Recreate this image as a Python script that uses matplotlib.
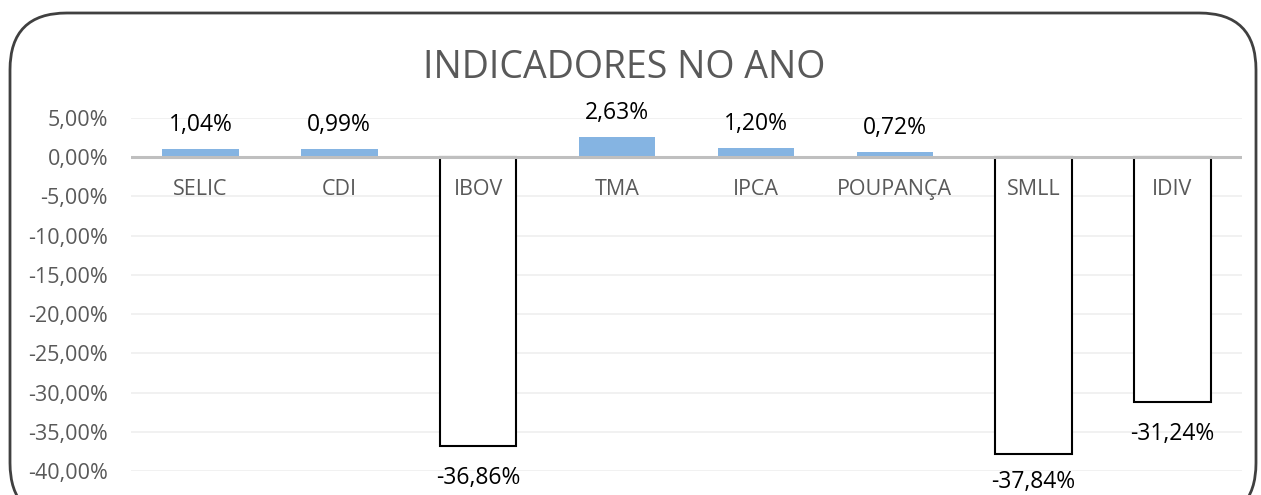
import numpy as np
import matplotlib.pyplot as plt
from matplotlib.patches import FancyBboxPatch

plt.rcParams['font.family'] = ['Open Sans', 'DejaVu Sans']

# dados do grafico
categorias = ['SELIC', 'CDI', 'IBOV', 'TMA', 'IPCA', 'POUPANÇA', 'SMLL', 'IDIV']
valores = [1.04, 0.99, -36.86, 2.63, 1.20, 0.72, -37.84, -31.24]
rotulos = ['1,04%', '0,99%', '-36,86%', '2,63%', '1,20%', '0,72%', '-37,84%', '-31,24%']
ticks_y = [5, 0, -5, -10, -15, -20, -25, -30, -35, -40]
ticks_y_txt = ['5,00%', '0,00%', '-5,00%', '-10,00%', '-15,00%', '-20,00%',
               '-25,00%', '-30,00%', '-35,00%', '-40,00%']

W, H = 1261, 495
fig = plt.figure(figsize=(W / 100, H / 100), dpi=100)

# moldura arredondada
frame = FancyBboxPatch((10 / W, -0.05), 1246 / W, 1 - 13 / H + 0.05,
                       boxstyle="round,pad=0,rounding_size=0.045",
                       transform=fig.transFigure, facecolor='none',
                       edgecolor='#404040', linewidth=2, mutation_aspect=W / H,
                       zorder=10)
fig.patches.append(frame)

ax = fig.add_axes([131 / W, 1 - 471 / H, 1111 / W, 353 / H])
ax.set_facecolor('none')
x = np.arange(len(categorias))

for i, v in enumerate(valores):
    if v >= 0:
        ax.bar(i, v, width=0.55, color='#85B4E2', zorder=3)
    else:
        ax.bar(i, v, width=0.55, color='white', edgecolor='black', linewidth=1.5, zorder=3)

for t in ticks_y:
    if t != 0:
        ax.axhline(t, color='#EFEFEF', linewidth=1.2, zorder=1)
ax.axhline(0, color='#BFBFBF', linewidth=2.2, zorder=4)

ax.set_xlim(-0.5, len(categorias) - 0.5)
ax.set_ylim(-40, 5)
ax.set_yticks(ticks_y)
ax.set_yticklabels(ticks_y_txt, color='#595959', fontsize=15.5)
ax.set_xticks([])
ax.tick_params(axis='y', length=0, pad=16.5)
for s in ax.spines.values():
    s.set_visible(False)

# rotulos das categorias logo abaixo do zero
for i, c in enumerate(categorias):
    ax.annotate(c, (i, 0), xytext=(0, -27.5), textcoords='offset points',
                ha='center', va='baseline', color='#595959', fontsize=15.5, zorder=5)

# rotulos dos valores (os negativos nao passam do limite inferior da area)
for i, (v, r) in enumerate(zip(valores, rotulos)):
    if v >= 0:
        ax.annotate(r, (i, v), xytext=(0, 13), textcoords='offset points',
                    ha='center', va='baseline', fontsize=16.5, color='black')
    else:
        y_txt = max(v - 4.85, -42.2)
        ax.annotate(r, (i, y_txt), ha='center', va='baseline', fontsize=16.5,
                    color='black', annotation_clip=False)

fig.text(624 / W, 1 - 78 / H, 'INDICADORES NO ANO', ha='center', va='baseline',
         fontsize=27, color='#595959')

fig.savefig('out.png', dpi=100)
